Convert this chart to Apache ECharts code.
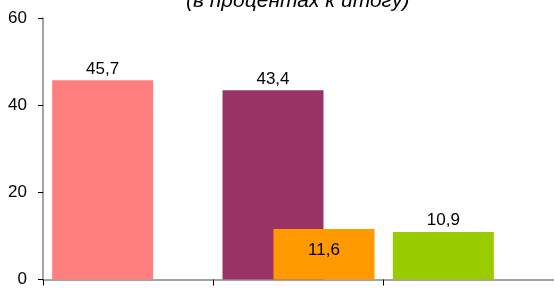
<!DOCTYPE html>
<html>
<head>
<meta charset="utf-8">
<script src="https://cdn.jsdelivr.net/npm/echarts@6/dist/echarts.min.js"></script>
<style>html,body{margin:0;padding:0;background:#fff}#c{width:554px;height:288px}</style>
</head>
<body>
<div id="c"></div>
<script>
var categories = ['A', 'B', 'C'];
var seriesMain = [45.7, 43.4, 10.9];
var seriesSecond = [null, 11.6, null];
var mainColors = ['#FF7F7F', '#993366', '#99CC00'];
var secondColors = ['#FF9900', '#FF9900', '#FF9900'];
var yTicks = [0, 20, 40, 60];
var titleText = '(в процентах к итогу)';

var fmt = function (p) { return String(p.value).replace('.', ','); };
var chart = echarts.init(document.getElementById('c'), null, {renderer: 'canvas'});
chart.setOption({
  animation: false,
  backgroundColor: '#fff',
  textStyle: {fontFamily: 'Liberation Sans, Arial, sans-serif'},
  graphic: [{
    type: 'text', left: 186, top: -9,
    style: {text: titleText, font: 'italic 21px "Liberation Sans", Arial, sans-serif', fill: '#000'}
  }],
  grid: {left: 43, right: 0, top: 18, bottom: 5, containLabel: false},
  xAxis: {
    type: 'category', data: categories,
    axisLine: {lineStyle: {color: '#868686', width: 1.5}},
    axisTick: {show: true, length: 6, lineStyle: {color: '#000'}},
    axisLabel: {show: false}
  },
  yAxis: {
    type: 'value', min: yTicks[0], max: yTicks[yTicks.length - 1], interval: 20,
    splitLine: {show: false},
    axisLine: {show: true, lineStyle: {color: '#868686', width: 1.5}},
    axisTick: {show: true, length: 5, lineStyle: {color: '#000'}},
    axisLabel: {color: '#000', fontSize: 17, margin: 16}
  },
  series: [{
    type: 'bar', data: seriesMain.map(function (v, i) { return {value: v, itemStyle: {color: mainColors[i]}}; }),
    barWidth: 101, barGap: '-49.5%',
    label: {show: true, position: 'top', distance: 3, color: '#000', fontSize: 17, formatter: fmt}
  }, {
    type: 'bar', data: seriesSecond.map(function (v, i) { return {value: v, itemStyle: {color: secondColors[i]}}; }),
    barWidth: 101, barGap: '-49.5%',
    label: {show: true, position: 'insideTop', distance: 13, color: '#000', fontSize: 17, formatter: fmt}
  }]
});
</script>
</body>
</html>
